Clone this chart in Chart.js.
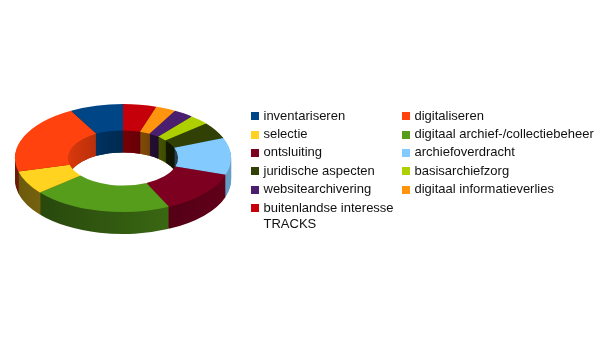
<!DOCTYPE html>
<html>
<head>
<meta charset="utf-8">
<script src="https://cdn.jsdelivr.net/npm/chart.js@4/dist/chart.umd.min.js"></script>
<style>
  body { margin: 0; background: #fff; }
  #wrap { position: relative; width: 605px; height: 341px; overflow: hidden; }
  canvas { position: absolute; left: 0; top: 0; }
  .item { position: absolute; font-family: "Liberation Sans", Arial, sans-serif; font-size: 13px; line-height: 16px; color: #111; }
  .item .sw { position: absolute; left: 0; top: 4.8px; width: 8px; height: 8px; }
  .item .tx { position: absolute; left: 12.5px; top: 0; }
</style>
</head>
<body>
<div id="wrap">
  <canvas id="donut" width="605" height="341"></canvas>
</div>
<script>
// Categories in legend order (counter-clockwise from 12 o'clock in the picture)
const labels = ["inventariseren", "digitaliseren", "selectie", "digitaal archief-/collectiebeheer",
  "ontsluiting", "archiefoverdracht", "juridische aspecten", "basisarchiefzorg",
  "websitearchivering", "digitaal informatieverlies", "buitenlandse interesse TRACKS"];
const values = [8, 21, 7, 21, 13, 11, 5, 3, 3, 3, 5];
const colors = ["#004586", "#ff420e", "#ffd320", "#579d1c", "#7e0021", "#83caff",
  "#314004", "#aecf00", "#4b1f6f", "#ff950e", "#c5000b"];

// 3D look
const squash = 0.5;   // vertical flattening of the ring
const depth = 22;     // thickness of the ring in pixels

function shade(hex, f) {
  const n = parseInt(hex.slice(1), 16);
  const r = Math.round(((n >> 16) & 255) * f);
  const g = Math.round(((n >> 8) & 255) * f);
  const b = Math.round((n & 255) * f);
  return "rgb(" + r + "," + g + "," + b + ")";
}

// Chart.js goes clockwise, the picture goes the other way, so reverse for drawing
const drawLabels = labels.slice().reverse();
const drawValues = values.slice().reverse();
const drawColors = colors.slice().reverse();

function drawWalls(ctx, arcs, stops) {
  const cx = arcs[0].x, R = arcs[0].outerRadius;
  for (let d = depth; d > 0; d--) {
    arcs.forEach((arc, i) => {
      const grad = ctx.createLinearGradient(cx - R, 0, cx + R, 0);
      stops.forEach(s => grad.addColorStop(s[0], shade(drawColors[i], s[1])));
      ctx.save();
      ctx.translate(0, d / squash);
      ctx.beginPath();
      ctx.arc(arc.x, arc.y, arc.outerRadius, arc.startAngle, arc.endAngle);
      ctx.arc(arc.x, arc.y, arc.innerRadius, arc.endAngle, arc.startAngle, true);
      ctx.closePath();
      ctx.fillStyle = grad;
      ctx.fill();
      ctx.restore();
    });
  }
}

const tilt = {
  id: "tilt",
  beforeDatasetsDraw(chart) {
    const ctx = chart.ctx;
    const arcs = chart.getDatasetMeta(0).data;
    const cx = arcs[0].x, cy = arcs[0].y;
    ctx.save();
    ctx.translate(cx, cy);
    ctx.scale(1, squash);
    ctx.translate(-cx, -cy);
    // outer wall, lit from the right
    drawWalls(ctx, arcs, [[0, 0.42], [0.6, 0.62], [1, 0.78]]);
    // inner wall seen through the hole, lit from the left
    ctx.save();
    ctx.beginPath();
    ctx.arc(cx, cy, arcs[0].innerRadius, 0, Math.PI * 2);
    ctx.clip();
    drawWalls(ctx, arcs, [[0.25, 0.85], [0.5, 0.6], [0.75, 0.3]]);
    ctx.restore();
  },
  afterDatasetsDraw(chart) {
    chart.ctx.restore();
  }
};

new Chart(document.getElementById("donut").getContext("2d"), {
  type: "doughnut",
  data: {
    labels: drawLabels,
    datasets: [{
      data: drawValues,
      backgroundColor: drawColors,
      borderWidth: 0,
    }],
  },
  options: {
    responsive: false,
    animation: false,
    cutout: "51%",
    layout: {
      padding: { left: 15, right: 374, top: 50, bottom: 75 }
    },
    plugins: {
      legend: { display: false },
      tooltip: { enabled: false }
    }
  },
  plugins: [tilt]
});

// Legend: two columns, row by row
const wrap = document.getElementById("wrap");
labels.forEach((name, i) => {
  const col = i % 2, row = Math.floor(i / 2);
  const item = document.createElement("div");
  item.className = "item";
  item.style.left = (col ? 402 : 251) + "px";
  item.style.top = (107.5 + row * 18.4) + "px";
  const sw = document.createElement("div");
  sw.className = "sw";
  sw.style.background = colors[i];
  const tx = document.createElement("div");
  tx.className = "tx";
  tx.textContent = name;
  if (col) tx.style.whiteSpace = "nowrap"; else tx.style.width = "136px";
  item.appendChild(sw);
  item.appendChild(tx);
  wrap.appendChild(item);
});
</script>
</body>
</html>
